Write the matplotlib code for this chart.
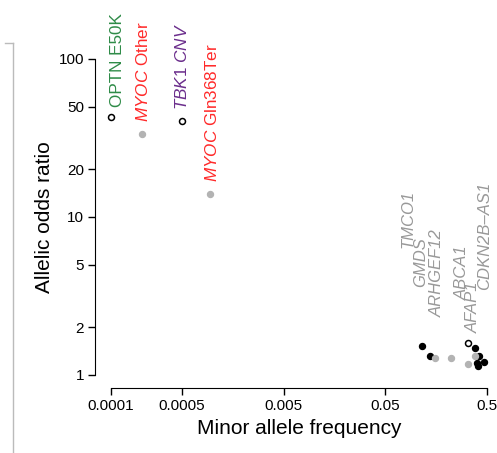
import matplotlib
matplotlib.use("Agg")
import matplotlib.pyplot as plt
from matplotlib.lines import Line2D

plt.rcParams['font.family'] = ['Liberation Sans', 'DejaVu Sans']
plt.rcParams['mathtext.fontset'] = 'custom'
plt.rcParams['mathtext.rm'] = 'Liberation Sans'
plt.rcParams['mathtext.it'] = 'Liberation Sans:italic'

# rare variants (labelled at top left)
rare_labels = ['OPTN E50K', r'$\mathit{MYOC}$ Other', r'$\mathit{TBK1\ CNV}$', r'$\mathit{MYOC}$ Gln368Ter']
rare_maf = [0.0001, 0.0002, 0.0005, 0.00095]
rare_or = [43, 33.5, 40.5, 14]
rare_style = ['open', 'gray', 'open', 'gray']
rare_colors = ['#2e8b47', '#ff2a2a', '#6b2e8c', '#ff2a2a']

# common variants
black_maf = [0.115, 0.136, 0.385, 0.42, 0.40, 0.41, 0.47]
black_or = [1.53, 1.32, 1.48, 1.32, 1.19, 1.14, 1.2]
gray_maf = [0.153, 0.22, 0.385, 0.326]
gray_or = [1.29, 1.29, 1.32, 1.17]
open_maf = [0.326]
open_or = [1.59]

gene_labels = ['TMCO1', 'GMDS', 'ARHGEF12', 'ABCA1', 'AFAP1', 'CDKN2B\u2013AS1']

xticks = [0.0001, 0.0005, 0.005, 0.05, 0.5]
xticklabels = ['0.0001', '0.0005', '0.005', '0.05', '0.5']
yticks = [1, 2, 5, 10, 20, 50, 100]

W, H = 497, 453
fig = plt.figure(figsize=(W / 100, H / 100), dpi=100)
ax = fig.add_axes([111 / W, (H - 375) / H, (487 - 111) / W, (375 - 59) / H])
ax.set_xscale('log')
ax.set_yscale('log')
ax.set_xlim(0.0001, 0.5)
ax.set_ylim(1, 100)

ms = 4.3
ax.plot(black_maf, black_or, 'o', ms=ms, mfc='black', mec='black', clip_on=False)
ax.plot(gray_maf, gray_or, 'o', ms=ms, mfc='#b3b3b3', mec='#b3b3b3', clip_on=False)
ax.plot(open_maf, open_or, 'o', ms=ms, mfc='white', mec='black', mew=1.1, clip_on=False)

for x, y, s in zip(rare_maf, rare_or, rare_style):
    if s == 'open':
        ax.plot(x, y, 'o', ms=ms, mfc='white', mec='black', mew=1.1, clip_on=False)
    else:
        ax.plot(x, y, 'o', ms=ms, mfc='#b3b3b3', mec='#b3b3b3', clip_on=False)

# label positions (data coords, bottom of rotated text)
rare_lab_pos = [(0.000115, 50), (0.000206, 40), (0.000497, 47.5), (0.00098, 16.7)]
for lab, (x, y), c in zip(rare_labels, rare_lab_pos, rare_colors):
    ax.text(x, y, lab, rotation=90, ha='center', va='bottom', color=c,
            fontsize=12.3, clip_on=False)

gene_lab_pos = [(0.0835, 6.4), (0.112, 3.6), (0.164, 2.33), (0.283, 2.98), (0.37, 1.84), (0.474, 3.45)]
for lab, (x, y) in zip(gene_labels, gene_lab_pos):
    ax.text(x, y, lab, rotation=90, ha='center', va='bottom', color='#999999',
            fontsize=12, style='italic', clip_on=False)

ax.set_xticks(xticks)
ax.set_xticklabels(xticklabels)
ax.set_yticks(yticks)
ax.set_yticklabels([str(v) for v in yticks], rotation=90, va='center')
ax.minorticks_off()
ax.tick_params(axis='both', labelsize=11, length=5, width=1, direction='out')
ax.tick_params(axis='x', pad=3)
ax.tick_params(axis='y', pad=3)

for side in ['top', 'right']:
    ax.spines[side].set_visible(False)
ax.spines['left'].set_position(('outward', 11.5))
ax.spines['bottom'].set_position(('outward', 9.4))
ax.spines['left'].set_bounds(1, 100)
ax.spines['bottom'].set_bounds(0.0001, 0.5)
ax.patch.set_visible(False)

ax.set_xlabel('Minor allele frequency', fontsize=15, labelpad=4)
ax.set_ylabel('Allelic odds ratio', fontsize=15, labelpad=3)

# thin grey frame line at the left edge of the crop
fig.add_artist(Line2D([13 / W, 13 / W], [0, (H - 43) / H], color='#bbbbbb', lw=1))
fig.add_artist(Line2D([5 / W, 13 / W], [(H - 43) / H, (H - 43) / H], color='#bbbbbb', lw=1))

fig.savefig('out.png', dpi=100)
